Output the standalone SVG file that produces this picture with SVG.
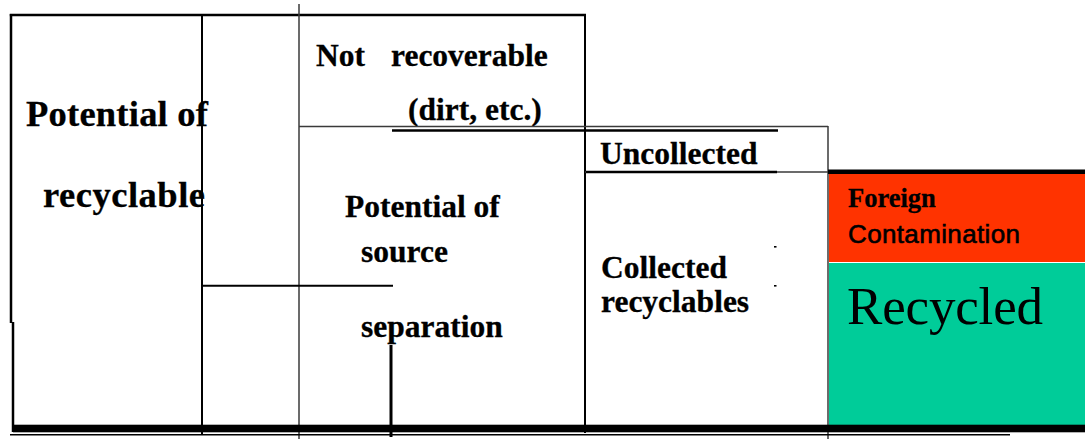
<svg xmlns="http://www.w3.org/2000/svg" width="1085" height="439" viewBox="0 0 1085 439">
<style>
.t{font-family:"Liberation Serif","Times New Roman",serif;font-weight:bold;fill:#000;stroke:#000;stroke-width:0.3}
.k{stroke:#000;fill:none}
.g{stroke:#3a3a3a;fill:none;stroke-width:1.5}
</style>
<rect width="1085" height="439" fill="#fff"/>
<g id="foreign-contamination">
<rect x="829" y="174" width="256" height="88" fill="#FF3300"/>
<text class="t" x="848" y="207" font-size="26.5">Foreign</text>
<text x="848" y="243" font-family="Liberation Sans, Arial, sans-serif" font-size="26" textLength="172" fill="#000" stroke="#000" stroke-width="0.6">Contamination</text>
</g>
<g id="recycled">
<rect x="829" y="263" width="256" height="162" fill="#00CC99"/>
<text x="847" y="324" font-family="Liberation Serif, 'Times New Roman', serif" font-size="53" textLength="196" fill="#000">Recycled</text>
</g>
<g id="potential-recyclable">
<text class="t" x="26" y="126" font-size="36.5" textLength="182">Potential of</text>
<text class="t" x="43" y="207" font-size="36.5" textLength="162">recyclable</text>
</g>
<g id="not-recoverable">
<text class="t" x="316" y="66" font-size="31.5">Not</text>
<text class="t" x="391" y="66" font-size="31.5">recoverable</text>
<text class="t" x="408" y="120" font-size="31.5">(dirt, etc.)</text>
</g>
<g id="source-separation">
<text class="t" x="345" y="217" font-size="31.5">Potential of</text>
<text class="t" x="361" y="262" font-size="31.5">source</text>
<text class="t" x="361" y="337" font-size="31.5">separation</text>
</g>
<g id="uncollected">
<text class="t" x="600" y="164" font-size="31.5">Uncollected</text>
</g>
<g id="collected">
<text class="t" x="601" y="278" font-size="31.5">Collected</text>
<text class="t" x="601" y="312" font-size="31.5">recyclables</text>
</g>
<g id="connectors">
<line class="k" x1="9.8" y1="15" x2="586" y2="15" stroke-width="2.5"/>
<line class="k" x1="11" y1="14" x2="11" y2="323" stroke-width="2.5"/>
<line class="k" x1="13" y1="322" x2="13" y2="432" stroke-width="2.5"/>
<line class="k" x1="202" y1="14" x2="202" y2="434" stroke-width="2"/>
<line class="g" x1="299" y1="4" x2="299" y2="439"/>
<line class="k" x1="585" y1="14" x2="585" y2="433" stroke-width="2"/>
<line class="g" x1="299" y1="126.5" x2="828" y2="126.5"/>
<line class="k" x1="392" y1="130.5" x2="778" y2="130.5" stroke-width="2.5"/>
<line class="g" x1="828" y1="126" x2="828" y2="439"/>
<line class="g" x1="585" y1="172" x2="828" y2="172"/>
<line class="k" x1="586" y1="172" x2="777" y2="172" stroke-width="2.5"/>
<line class="k" x1="828" y1="171.7" x2="1085" y2="171.7" stroke-width="4.6"/>
<line class="k" x1="202" y1="285.7" x2="393" y2="285.7" stroke-width="2"/>
<line class="k" x1="391" y1="345" x2="391" y2="437" stroke-width="3"/>
<rect x="13" y="424.7" width="1072" height="7.6" fill="#000"/>
<line class="k" x1="10" y1="434.8" x2="1010" y2="434.8" stroke-width="1.6"/>
<rect x="774" y="246" width="2.5" height="1.6" fill="#000"/>
<rect x="774" y="285" width="2.5" height="1.6" fill="#000"/>
</g>
</svg>
